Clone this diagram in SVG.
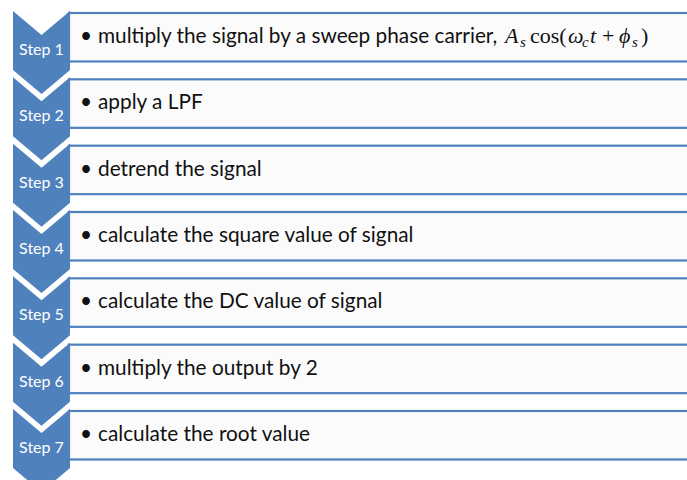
<svg xmlns="http://www.w3.org/2000/svg" width="687" height="480" viewBox="0 0 687 480">
<defs>
<style>
.chev{fill:#4F81BD}
.box{fill:#FBFBFB;stroke:#4F81BD;stroke-width:2.2}
.lbl{fill:#FFFFFF;font-family:"Lato","Open Sans",sans-serif;font-size:16px;text-anchor:middle}
.txt{fill:#111111;font-family:"Lato","Open Sans",sans-serif;font-size:20.8px}
.math{fill:#111111;font-family:"Liberation Serif","DejaVu Serif",serif;font-size:22px}
.it{font-style:italic}
.sub{font-size:15px;font-style:italic}
</style>
<path id="chevShape" d="M0,0 L28.5,24 L57,0 L57,59 L28.5,83 L0,59 Z"/>
</defs>
<rect x="0" y="0" width="687" height="480" fill="#FFFFFF"/>

<g id="step1">
<use href="#chevShape" class="chev" x="13" y="11"/>
<rect class="box" x="69" y="13" width="640" height="48.5"/>
<text class="lbl" x="41.5" y="55">Step 1</text>
<text class="txt" x="80" y="43">•</text>
<text class="txt" x="98" y="43">multiply the signal by a sweep phase carrier,</text>
<text class="math" y="43"><tspan class="it" x="505">A</tspan><tspan class="sub" x="520" y="47">s</tspan><tspan x="530" y="43">cos(</tspan><tspan class="it" x="568">ω</tspan><tspan class="sub" x="582" y="47">c</tspan><tspan class="it" x="590" y="43">t</tspan><tspan x="602">+</tspan><tspan class="it" x="619">ϕ</tspan><tspan class="sub" x="632" y="47">s</tspan><tspan x="641" y="43">)</tspan></text>
</g>

<g id="step2">
<use href="#chevShape" class="chev" x="13" y="77.33"/>
<rect class="box" x="69" y="79.33" width="640" height="48.5"/>
<text class="lbl" x="41.5" y="121.33">Step 2</text>
<text class="txt" x="80" y="109.33">•</text>
<text class="txt" x="98" y="109.33">apply a LPF</text>
</g>

<g id="step3">
<use href="#chevShape" class="chev" x="13" y="143.67"/>
<rect class="box" x="69" y="145.67" width="640" height="48.5"/>
<text class="lbl" x="41.5" y="187.67">Step 3</text>
<text class="txt" x="80" y="175.67">•</text>
<text class="txt" x="98" y="175.67">detrend the signal</text>
</g>

<g id="step4">
<use href="#chevShape" class="chev" x="13" y="210"/>
<rect class="box" x="69" y="212" width="640" height="48.5"/>
<text class="lbl" x="41.5" y="254">Step 4</text>
<text class="txt" x="80" y="242">•</text>
<text class="txt" x="98" y="242">calculate the square value of signal</text>
</g>

<g id="step5">
<use href="#chevShape" class="chev" x="13" y="276.33"/>
<rect class="box" x="69" y="278.33" width="640" height="48.5"/>
<text class="lbl" x="41.5" y="320.33">Step 5</text>
<text class="txt" x="80" y="308.33">•</text>
<text class="txt" x="98" y="308.33">calculate the DC value of signal</text>
</g>

<g id="step6">
<use href="#chevShape" class="chev" x="13" y="342.67"/>
<rect class="box" x="69" y="344.67" width="640" height="48.5"/>
<text class="lbl" x="41.5" y="386.67">Step 6</text>
<text class="txt" x="80" y="374.67">•</text>
<text class="txt" x="98" y="374.67">multiply the output by 2</text>
</g>

<g id="step7">
<use href="#chevShape" class="chev" x="13" y="409"/>
<rect class="box" x="69" y="411" width="640" height="48.5"/>
<text class="lbl" x="41.5" y="453">Step 7</text>
<text class="txt" x="80" y="441">•</text>
<text class="txt" x="98" y="441">calculate the root value</text>
</g>

<g id="connectors"></g>
</svg>
